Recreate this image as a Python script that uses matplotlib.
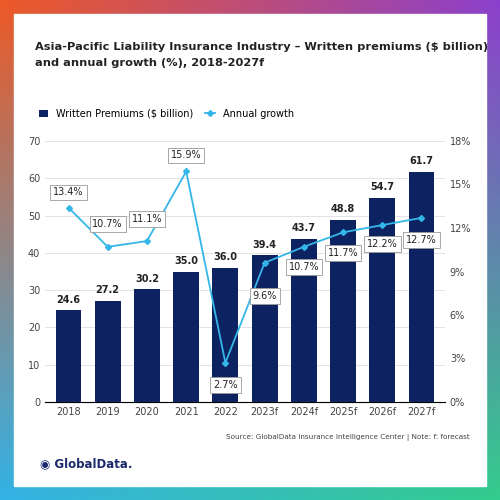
import matplotlib
matplotlib.use("Agg")
import matplotlib.pyplot as plt
import numpy as np

years = ["2018","2019","2020","2021","2022","2023f","2024f","2025f","2026f","2027f"]
premiums = [24.6,27.2,30.2,35.0,36.0,39.4,43.7,48.8,54.7,61.7]
growth = [13.4,10.7,11.1,15.9,2.7,9.6,10.7,11.7,12.2,12.7]
label_offsets = [1.05,1.6,1.5,1.1,-1.5,-2.3,-1.4,-1.45,-1.3,-1.5]

fig = plt.figure(figsize=(5,5), dpi=100)
bg = fig.add_axes([0,0,1,1]); bg.axis("off")
tl=np.array([0.93,0.35,0.15]); tr=np.array([0.55,0.25,0.80])
bl=np.array([0.20,0.70,0.90]); br=np.array([0.20,0.80,0.55])
u=np.linspace(0,1,100)[None,:,None]; v=np.linspace(0,1,100)[:,None,None]
img=(1-v)*((1-u)*tl+u*tr)+v*((1-u)*bl+u*br)
bg.imshow(img, extent=[0,1,0,1], aspect="auto")
bg.add_patch(plt.Rectangle((0.028,0.028),0.944,0.944,color="white"))
bg.set_xlim(0,1); bg.set_ylim(0,1)

fig.text(0.07,0.915,"Asia-Pacific Liability Insurance Industry – Written premiums ($ billion)\nand annual growth (%), 2018-2027f",
         fontsize=8.2, fontweight="bold", color="#222222", va="top", linespacing=1.7)

ax = fig.add_axes([0.09,0.196,0.80,0.522])
x=np.arange(len(years))
navy="#0d2260"
ax.bar(x, premiums, width=0.66, color=navy, label="Written Premiums ($ billion)", zorder=2)
for xi,p in zip(x,premiums):
    ax.text(xi,p+1.5,f"{p:.1f}",ha="center",va="bottom",fontsize=7,fontweight="bold",color="#222")
ax.set_ylim(0,70); ax.set_yticks(range(0,71,10))
ax.yaxis.grid(True,color="#e3e3e3",lw=0.7,zorder=0); ax.set_axisbelow(True)
ax.set_xticks(x); ax.set_xticklabels(years)
ax.set_xlim(-0.6,len(years)-0.4)
ax2=ax.twinx()
ax2.plot(x,growth,color="#35b6e8",marker="D",markersize=3,lw=1.3,label="Annual growth")
for xi,g,o in zip(x,growth,label_offsets):
    ax2.text(xi,g+o,f"{g:.1f}%",ha="center",va="center",fontsize=7,color="#222",
             bbox=dict(boxstyle="square,pad=0.3",fc="white",ec="#999999",lw=0.6))
ax2.set_ylim(0,18); ax2.set_yticks(range(0,19,3))
ax2.set_yticklabels([f"{t}%" for t in range(0,19,3)])
for a in (ax,ax2):
    for s in ["top","left","right"]: a.spines[s].set_visible(False)
    a.tick_params(length=0,labelsize=7,colors="#444")
ax.spines["bottom"].set_color("#bbbbbb")
h1,l1=ax.get_legend_handles_labels(); h2,l2=ax2.get_legend_handles_labels()
fig.legend(h1+h2,l1+l2,loc="upper left",bbox_to_anchor=(0.06,0.80),ncol=2,frameon=False,
           fontsize=7,handlelength=1.0,columnspacing=1.2)

fig.text(0.08,0.072,"◉ GlobalData.",fontsize=8.5,fontweight="bold",color="#1a2a6c",va="center")
fig.text(0.94,0.125,"Source: GlobalData Insurance Intelligence Center | Note: f: forecast",
         fontsize=5.2,color="#444",ha="right",va="center")
fig.savefig("out.png",dpi=100)
